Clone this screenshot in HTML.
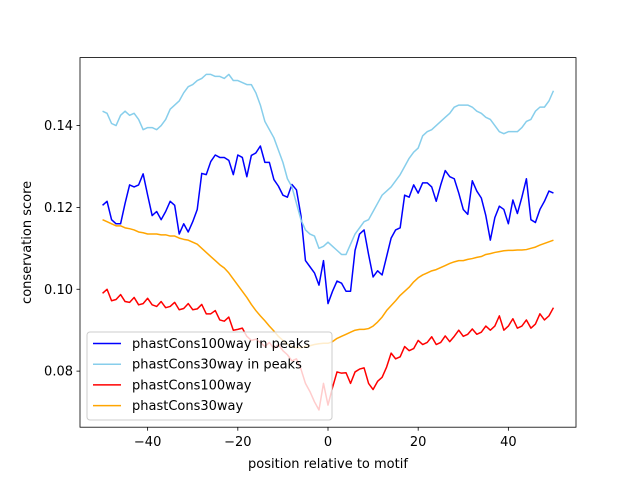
<!DOCTYPE html>
<html><head><meta charset="utf-8"><style>
body{margin:0;background:#fff}
svg text{font-family:"DejaVu Sans","Liberation Sans",sans-serif;}
</style></head><body>
<svg id="chart" width="640" height="480" xmlns="http://www.w3.org/2000/svg">
<rect x="0" y="0" width="640" height="480" fill="#fff"/>
<g id="plot"></g>
</svg>
<script>
const positions = Array.from({length:101},(_,i)=>i-50);
const xTicks = [-40,-20,0,20,40];
const yTicks = [0.08,0.10,0.12,0.14];
const yTickLabels = ["0.08","0.10","0.12","0.14"];
const seriesNames = ["phastCons100way in peaks","phastCons30way in peaks","phastCons100way","phastCons30way"];
const seriesColors = ["#0000ff","#87ceeb","#ff0000","#ffa500"];
const peaks100 = [0.1205,0.1215,0.117,0.116,0.116,0.121,0.1255,0.125,0.1255,0.1282,0.123,0.118,0.119,0.117,0.119,0.1215,0.1205,0.1135,0.116,0.114,0.1165,0.1195,0.1283,0.128,0.1312,0.1328,0.1322,0.1322,0.1315,0.128,0.1328,0.1322,0.1275,0.1327,0.1333,0.135,0.131,0.131,0.1268,0.1252,0.123,0.1225,0.1256,0.1243,0.118,0.107,0.1055,0.104,0.101,0.107,0.0965,0.0995,0.102,0.1015,0.0995,0.0995,0.1095,0.1135,0.1145,0.1085,0.103,0.1045,0.1035,0.108,0.1125,0.1145,0.115,0.123,0.1225,0.1255,0.1235,0.126,0.126,0.125,0.1215,0.1255,0.129,0.1275,0.127,0.1235,0.1195,0.1183,0.1265,0.124,0.1223,0.118,0.112,0.1175,0.1203,0.1195,0.116,0.1218,0.1185,0.1225,0.127,0.117,0.1163,0.1195,0.1215,0.124,0.1235];
const peaks30 = [0.1435,0.143,0.1405,0.14,0.1425,0.1435,0.1425,0.143,0.1415,0.139,0.1395,0.1395,0.139,0.14,0.1415,0.144,0.145,0.146,0.148,0.1495,0.15,0.151,0.1515,0.1525,0.1525,0.152,0.152,0.1515,0.1525,0.151,0.151,0.1505,0.15,0.15,0.148,0.145,0.141,0.139,0.137,0.134,0.131,0.127,0.125,0.121,0.117,0.1145,0.1135,0.113,0.11,0.1105,0.1115,0.1105,0.1095,0.1085,0.1085,0.111,0.1135,0.115,0.1165,0.117,0.119,0.121,0.123,0.124,0.125,0.1265,0.128,0.13,0.132,0.1335,0.1345,0.1375,0.1385,0.139,0.14,0.141,0.142,0.143,0.1445,0.145,0.145,0.145,0.1445,0.1435,0.143,0.142,0.1415,0.14,0.1385,0.138,0.1385,0.1385,0.1385,0.1395,0.141,0.1415,0.1435,0.1445,0.1445,0.146,0.1485];
const all100 = [0.099,0.100,0.0972,0.0975,0.0987,0.097,0.0968,0.098,0.0962,0.0965,0.0978,0.0962,0.0958,0.097,0.0955,0.0958,0.0968,0.095,0.0953,0.0965,0.095,0.0952,0.0963,0.094,0.094,0.0948,0.0925,0.0922,0.0932,0.090,0.0902,0.0905,0.0885,0.0875,0.0878,0.087,0.086,0.087,0.0855,0.0865,0.085,0.084,0.0825,0.083,0.0805,0.077,0.075,0.0725,0.0705,0.077,0.0717,0.076,0.0798,0.0795,0.0796,0.077,0.0798,0.0805,0.0808,0.077,0.0755,0.0775,0.0785,0.081,0.0844,0.083,0.0835,0.086,0.085,0.0855,0.0875,0.0865,0.087,0.0884,0.0865,0.087,0.0886,0.0872,0.0885,0.090,0.0885,0.089,0.0903,0.089,0.0895,0.091,0.090,0.091,0.0935,0.090,0.091,0.0928,0.0905,0.091,0.0925,0.0905,0.0915,0.094,0.0925,0.0935,0.0955];
const all30 = [0.117,0.1165,0.116,0.1155,0.1155,0.115,0.1148,0.1145,0.114,0.1138,0.1135,0.1135,0.1135,0.1133,0.1133,0.113,0.113,0.1125,0.1122,0.112,0.1115,0.111,0.110,0.109,0.108,0.107,0.106,0.1052,0.104,0.1025,0.101,0.0995,0.098,0.0963,0.0948,0.0935,0.0923,0.091,0.0898,0.0885,0.0875,0.0865,0.086,0.0857,0.0857,0.086,0.0862,0.0865,0.0867,0.0868,0.0868,0.0872,0.088,0.0885,0.089,0.0895,0.090,0.0902,0.0902,0.0904,0.091,0.092,0.0932,0.0948,0.096,0.0972,0.0985,0.0995,0.1005,0.1018,0.1028,0.1035,0.104,0.1045,0.1048,0.1053,0.1058,0.1063,0.1067,0.107,0.107,0.1073,0.1075,0.1078,0.108,0.1085,0.1087,0.109,0.1092,0.1094,0.1095,0.1095,0.1096,0.1096,0.1097,0.110,0.1103,0.1108,0.1112,0.1116,0.112];

const L=80,R=576,T=57.6,B=427.2;
const xMin=-55,xMax=55,yMin=0.0663,yMax=0.1566;
const xs=v=>L+(v-xMin)/(xMax-xMin)*(R-L);
const ys=v=>B-(v-yMin)/(yMax-yMin)*(B-T);
const NS="http://www.w3.org/2000/svg";
const g=document.getElementById('plot');
function mk(tag,attrs,parent){const e=document.createElementNS(NS,tag);for(const k in attrs)e.setAttribute(k,attrs[k]);(parent||g).appendChild(e);return e;}

const data=[peaks100,peaks30,all100,all30];
const lineNames=['series-phastcons100way-in-peaks','series-phastcons30way-in-peaks','series-phastcons100way','series-phastcons30way'];
data.forEach((arr,si)=>{
  const d=arr.map((v,i)=>(i?'L':'M')+xs(positions[i]).toFixed(2)+','+ys(v).toFixed(2)).join(' ');
  const p=mk('path',{d:d,fill:'none',stroke:seriesColors[si],'stroke-width':1.5,'stroke-linejoin':'round'});
  
  
});

const frame=mk('rect',{x:L,y:T,width:R-L,height:B-T,fill:'none',stroke:'#000','stroke-width':0.8});



xTicks.forEach(v=>{
  const x=xs(v);
  mk('line',{x1:x,x2:x,y1:B,y2:B+3.5,stroke:'#000','stroke-width':0.8});
  const t=mk('text',{x:x,y:B+19,'text-anchor':'middle','font-size':13});
  t.textContent=v<0?'\u2212'+Math.abs(v):String(v);
  
  
});
yTicks.forEach((v,i)=>{
  const y=ys(v);
  mk('line',{x1:L-3.5,x2:L,y1:y,y2:y,stroke:'#000','stroke-width':0.8});
  const t=mk('text',{x:L-7,y:y+4.5,'text-anchor':'end','font-size':13});
  t.textContent=yTickLabels[i];
  
  
});
const xl=mk('text',{x:(L+R)/2,y:468,'text-anchor':'middle','font-size':13});
xl.textContent='position relative to motif';


const yl=mk('text',{x:0,y:0,'text-anchor':'middle','font-size':13,transform:'translate(31,'+((T+B)/2)+') rotate(-90)'});
yl.textContent='conservation score';



const lg=mk('g',{});


mk('rect',{x:87,y:332,width:245,height:88,rx:3,fill:'#fff','fill-opacity':0.8,stroke:'#cccccc','stroke-width':1},lg);
seriesNames.forEach((n,i)=>{
  const y=343.5+i*20.7;
  mk('line',{x1:93,x2:121,y1:y,y2:y,stroke:seriesColors[i],'stroke-width':1.5},lg);
  const t=mk('text',{x:132,y:y+4.5,'font-size':13},lg);
  t.textContent=n;
  
  
});
</script>
</body></html>
